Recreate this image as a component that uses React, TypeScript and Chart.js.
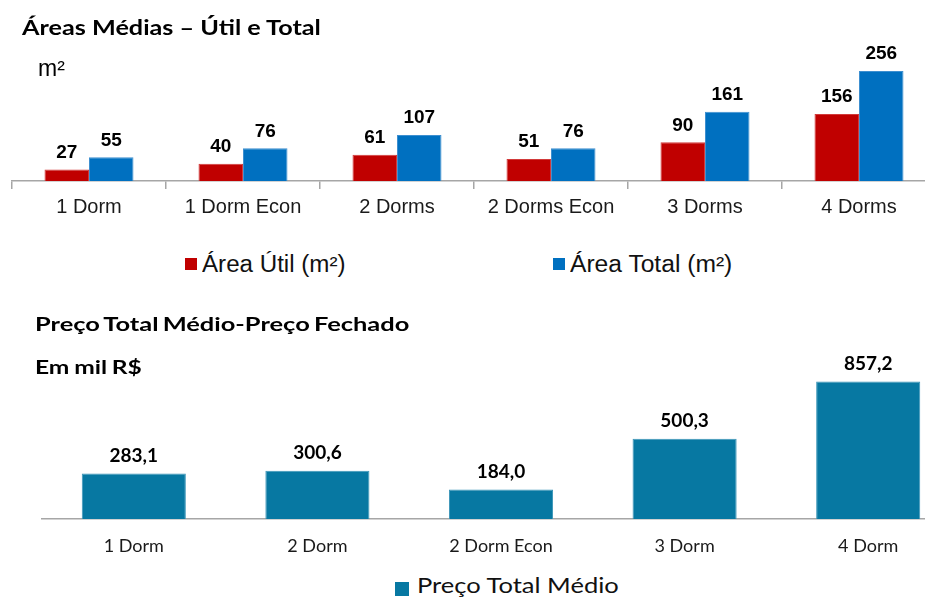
import React, { useEffect, useRef } from "react";
import { Chart, registerables } from "chart.js";

Chart.register(...registerables);

// ---- Data ----
const areaCategories = ["1 Dorm", "1 Dorm Econ", "2 Dorms", "2 Dorms Econ", "3 Dorms", "4 Dorms"];
const areaUtil = [27, 40, 61, 51, 90, 156];
const areaTotal = [55, 76, 107, 76, 161, 256];

const priceCategories = ["1 Dorm", "2 Dorm", "2 Dorm Econ", "3 Dorm", "4 Dorm"];
const precoTotalMedio = [283.1, 300.6, 184.0, 500.3, 857.2];

const RED = "#C00000";
const BLUE = "#0070C0";
const TEAL = "#0778A2";
const AXIS = "#a6a6a6";

function makeLabelPlugin(font: string, offset: number, format: (v: number) => string) {
  return {
    id: "valueLabels",
    afterDatasetsDraw(chart: any) {
      const ctx = chart.ctx;
      ctx.save();
      ctx.font = font;
      ctx.fillStyle = "#000";
      ctx.textAlign = "center";
      ctx.textBaseline = "middle";
      chart.data.datasets.forEach((ds: any, i: number) => {
        const meta = chart.getDatasetMeta(i);
        meta.data.forEach((bar: any, j: number) => {
          ctx.fillText(format(ds.data[j]), bar.x, bar.y - offset);
        });
      });
      ctx.restore();
    },
  };
}

function AreaChart() {
  const ref = useRef<HTMLCanvasElement>(null);
  useEffect(() => {
    const chart = new Chart(ref.current!, {
      type: "bar",
      data: {
        labels: areaCategories,
        datasets: [
          { label: "Área Útil (m²)", data: areaUtil, backgroundColor: RED, borderColor: "#d23a3a", borderWidth: 1, barPercentage: 1, categoryPercentage: 0.578 },
          { label: "Área Total (m²)", data: areaTotal, backgroundColor: BLUE, borderColor: "#3d8fd0", borderWidth: 1, barPercentage: 1, categoryPercentage: 0.578 },
        ],
      },
      options: {
        responsive: false,
        animation: false,
        layout: { padding: { left: 12, right: 14, top: 52, bottom: 9 } },
        plugins: { legend: { display: false }, tooltip: { enabled: false } },
        scales: {
          x: {
            afterFit: (s: any) => { s.height = 40; },
            border: { color: AXIS, width: 1.5 },
            grid: { display: true, drawOnChartArea: false, drawTicks: true, tickLength: 8, color: AXIS, lineWidth: 1.5, offset: true },
            ticks: { color: "#1a1a1a", font: { family: "'Liberation Sans', Arial, sans-serif", size: 20 }, padding: 6, maxRotation: 0, autoSkip: false },
          },
          y: { display: false, min: 0, max: 300 },
        },
      },
      plugins: [makeLabelPlugin("bold 19px 'Liberation Sans', Arial, sans-serif", 17, (v) => String(v))],
    } as any);
    return () => chart.destroy();
  }, []);
  return <canvas ref={ref} width={950} height={230} style={{ position: "absolute", left: 0, top: 0, display: "block" }} />;
}

function PriceChart() {
  const ref = useRef<HTMLCanvasElement>(null);
  useEffect(() => {
    const chart = new Chart(ref.current!, {
      type: "bar",
      data: {
        labels: priceCategories,
        datasets: [
          { label: "Preço Total Médio", data: precoTotalMedio, backgroundColor: TEAL, borderColor: "#3b95b8", borderWidth: 1, barPercentage: 0.567, categoryPercentage: 1 },
        ],
      },
      options: {
        responsive: false,
        animation: false,
        layout: { padding: { left: 42, right: 10, top: 27, bottom: 11 } },
        plugins: { legend: { display: false }, tooltip: { enabled: false } },
        scales: {
          x: {
            afterFit: (s: any) => { s.height = 40; },
            border: { color: AXIS, width: 1.5 },
            grid: { display: true, drawOnChartArea: false, drawTicks: false, color: "rgba(0,0,0,0)" },
            ticks: { color: "#1a1a1a", font: { family: "Lato, sans-serif", size: 18 }, padding: 16, maxRotation: 0, autoSkip: false },
          },
          y: { display: false, min: 0, max: 1010 },
        },
      },
      plugins: [makeLabelPlugin("bold 19px Lato, sans-serif", 18, (v) => v.toFixed(1).replace(".", ","))],
    } as any);
    return () => chart.destroy();
  }, []);
  return <canvas ref={ref} width={970} height={240} style={{ position: "absolute", left: 0, top: 330, display: "block" }} />;
}

const txt = (left: number, top: number, size: number, family: string, bold: boolean, sx = 1, extra: any = {}) => ({
  position: "absolute" as const,
  left,
  top,
  fontSize: size,
  lineHeight: 1,
  fontFamily: family,
  fontWeight: bold ? 700 : 400,
  whiteSpace: "nowrap" as const,
  color: "#000",
  transform: `scaleX(${sx})`,
  transformOrigin: "left top",
  ...extra,
});

const sq = (left: number, top: number, size: number, color: string) => ({
  position: "absolute" as const,
  left,
  top,
  width: size,
  height: size,
  background: color,
});

const LATO = "Lato, sans-serif";
const LIB = "'Liberation Sans', Arial, sans-serif";

export default function App() {
  return (
    <div style={{ position: "fixed", left: 0, top: 0, width: 925, height: 602, overflow: "hidden", background: "#fff" }}>
      <AreaChart />
      <PriceChart />
      <div style={txt(22, 16.5, 20, LATO, true, 1.26)}>Áreas Médias – Útil e Total</div>
      <div style={txt(38, 56.5, 23, LIB, false)}>m²</div>

      <div style={sq(185, 258, 12, RED)} />
      <div style={txt(201.5, 252.5, 23, LIB, false, 1.05, { color: "#111" })}>Área Útil (m²)</div>
      <div style={sq(553, 258, 12, BLUE)} />
      <div style={txt(569.5, 252.5, 23, LIB, false, 1.07, { color: "#111" })}>Área Total (m²)</div>

      <div style={txt(35, 314.6, 18.5, LATO, true, 1.375, { wordSpacing: -1.5 })}>Preço Total Médio-Preço Fechado</div>
      <div style={txt(35, 356.7, 19.5, LATO, true, 1.26, { wordSpacing: -1 })}>Em mil R$</div>

      <div style={sq(395, 582, 14, TEAL)} />
      <div style={txt(416.5, 574.3, 22, LATO, false, 1.16, { color: "#111" })}>Preço Total Médio</div>
    </div>
  );
}
